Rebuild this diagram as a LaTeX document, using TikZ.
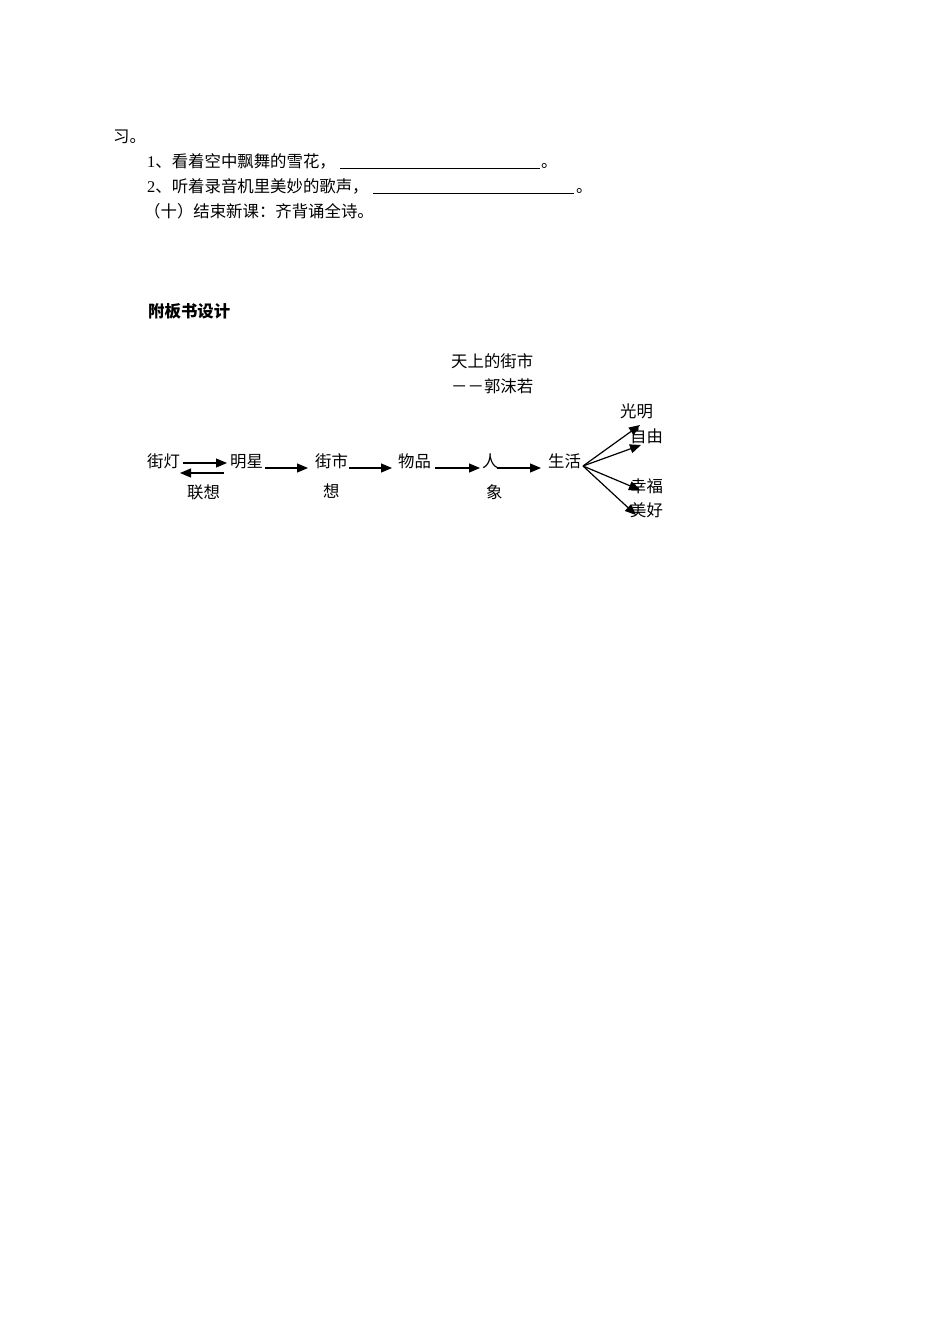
\documentclass[tikz,border=0pt]{standalone}
\usepackage{fontspec}
\setmainfont{Liberation Serif}
\newfontfamily\cjk{Noto Sans CJK SC}
\usetikzlibrary{arrows.meta}
\begin{document}
\begin{tikzpicture}[x=1pt,y=-1pt,
  txt/.style={inner sep=0pt, anchor=base west, font=\fontsize{16.4}{20}\selectfont\cjk},
  ln/.style={line width=0.9pt},
  arr/.style={line width=1.2pt, -{Triangle[length=11pt,width=9pt]}}]
\path[use as bounding box, fill=white] (0,0) rectangle (950,1344);
% text lines
\node[txt] (l0) at (113,142) {习。};
\node[txt] (l1) at (147,167) {{\fontspec{Liberation Serif}1}、看着空中飘舞的雪花，};
\node[txt] (l1e) at (541,167) {。};
\node[txt] (l2) at (147,192) {{\fontspec{Liberation Serif}2}、听着录音机里美妙的歌声，};
\node[txt] (l2e) at (576,192) {。};
\node[txt] (l3) at (144,217) {（十）结束新课：齐背诵全诗。};
\coordinate (u1a) at (340,168); \coordinate (u1b) at (540,168);
\coordinate (u2a) at (373,193); \coordinate (u2b) at (574,193);
\draw[ln] (u1a) -- (u1b);
\draw[ln] (u2a) -- (u2b);
\node[txt, font=\fontsize{16.4}{20}\selectfont\cjk\bfseries] (title) at (148,317) {附板书设计};
% diagram
\node[txt] (t1) at (451,367) {天上的街市};
\node[txt] (t2) at (451,392) {－－郭沫若};
\node[txt] (gm) at (620,417) {光明};
\node[txt] (zy) at (630,442) {自由};
\node[txt] (jd) at (147,467) {街灯};
\node[txt] (mx) at (230,467) {明星};
\node[txt] (js) at (315,467) {街市};
\node[txt] (wp) at (398,467) {物品};
\node[txt] (rn) at (482,467) {人};
\node[txt] (sh) at (548,467) {生活};
\node[txt] (lx) at (187,498) {联想};
\node[txt] (xi) at (323,497) {想};
\node[txt] (xg) at (486,498) {象};
\node[txt] (xf) at (630,492) {幸福};
\node[txt] (mh) at (630,516) {美好};
% arrows
\coordinate (a1s) at (183,463); \coordinate (a1e) at (227,463);
\coordinate (a2s) at (224,473); \coordinate (a2e) at (180,473);
\draw[arr] (a1s) -- (a1e);
\draw[arr] (a2s) -- (a2e);
\coordinate (b1s) at (265,468); \coordinate (b1e) at (308,468);
\coordinate (b2s) at (349,468); \coordinate (b2e) at (392,468);
\coordinate (b3s) at (435,468); \coordinate (b3e) at (480,468);
\coordinate (b4s) at (497,468); \coordinate (b4e) at (541,468);
\draw[arr] (b1s) -- (b1e);
\draw[arr] (b2s) -- (b2e);
\draw[arr] (b3s) -- (b3e);
\draw[arr] (b4s) -- (b4e);
\coordinate (fan) at (583,466);
\coordinate (f1) at (640,425);
\coordinate (f2) at (641,445);
\coordinate (f3) at (640,490);
\coordinate (f4) at (636,515);
\draw[arr] (fan) -- (f1);
\draw[arr] (fan) -- (f2);
\draw[arr] (fan) -- (f3);
\draw[arr] (fan) -- (f4);
\end{tikzpicture}
\end{document}
